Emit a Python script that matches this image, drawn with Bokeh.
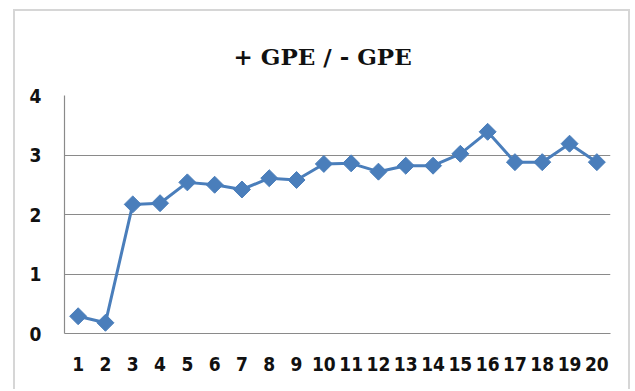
from bokeh.plotting import figure
from bokeh.models import Range1d, FixedTicker
from bokeh.embed import file_html
from bokeh.resources import INLINE

categories = list(range(1, 21))
values = [0.29, 0.18, 2.17, 2.19, 2.54, 2.50, 2.42, 2.61, 2.58, 2.85,
          2.86, 2.72, 2.82, 2.82, 3.02, 3.39, 2.88, 2.88, 3.19, 2.88]
y_ticks = [0, 1, 2, 3, 4]
title_text = "+ GPE / - GPE"

W, H = 617, 380
p = figure(width=W, height=H, output_backend="svg", toolbar_location=None,
           title=title_text,
           x_range=Range1d(0.5, 20.5), y_range=Range1d(0, 4),
           min_border_left=49, min_border_right=22, min_border_top=84,
           min_border_bottom=58)
p.styles = {"margin-left": "13px", "margin-top": "9px",
            "border-left": "2px solid #d6d6d6",
            "border-top": "2px solid #d6d6d6",
            "border-right": "2px solid #d6d6d6"}
p.outline_line_color = None
p.background_fill_color = "white"
p.border_fill_color = "white"

p.title.align = "left"
p.title.offset = 169
p.title.vertical_align = "top"
p.title.text_font = "DejaVu Serif"
p.title.text_font_style = "bold"
p.title.text_font_size = "23px"
p.title.text_color = "#111111"
p.title.standoff = 47

tick_font = "'Liberation Sans Narrow', 'DejaVu Sans Condensed', 'Liberation Sans'"

p.xaxis.ticker = FixedTicker(ticks=categories)
p.yaxis.ticker = FixedTicker(ticks=y_ticks)
for ax in (p.xaxis, p.yaxis):
    ax.axis_line_color = "#8a8a8a"
    ax.axis_line_width = 1.2
    ax.major_tick_line_color = None
    ax.minor_tick_line_color = None
    ax.major_label_text_font = tick_font
    ax.major_label_text_font_style = "bold"
    ax.major_label_text_font_size = "19px"
    ax.major_label_text_color = "#111111"
p.xaxis.major_label_standoff = 17
p.yaxis.major_label_standoff = 17

p.xgrid.grid_line_color = None
p.ygrid.ticker = FixedTicker(ticks=[1, 2, 3, 4])
p.ygrid.grid_line_color = "#8a8a8a"
p.ygrid.grid_line_width = 1.2

color = "#4a7ebb"
p.line(categories, values, line_color=color, line_width=3)
p.scatter(categories, values, marker="square", angle=0.7854, size=12,
          fill_color=color, line_color=color)

open("out.html", "w").write(file_html(p, INLINE))
